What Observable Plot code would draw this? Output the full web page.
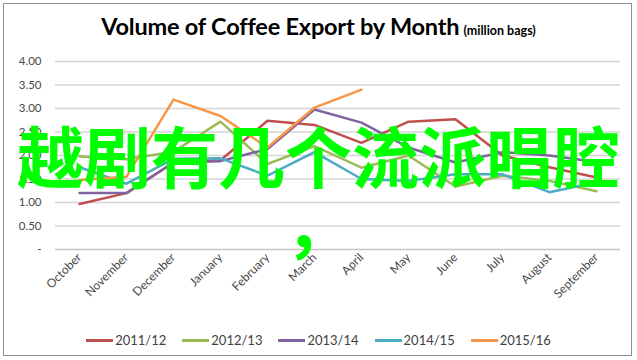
<!DOCTYPE html>
<html>
<head>
<meta charset="utf-8">
<script src="https://cdn.jsdelivr.net/npm/d3@7"></script>
<script src="https://cdn.jsdelivr.net/npm/@observablehq/plot@0.6"></script>
<style>
  html, body { margin: 0; padding: 0; background: #fff; }
  #wrap { position: relative; width: 637px; height: 360px; overflow: hidden; font-family: Lato, "Open Sans", sans-serif; }
  #frame { position: absolute; left: 3px; top: 3px; width: 629px; height: 353px; border: 1px solid #8f8f8f; box-sizing: border-box; pointer-events: none; }
  #title { position: absolute; left: 0; top: 12px; width: 637px; text-align: center; white-space: nowrap; color: #000; }
  #title .main { font-size: 23.5px; font-weight: 700; letter-spacing: -0.2px; }
  #title .unit { font-size: 12.5px; font-weight: 700; }
  #chart { position: absolute; left: 0; top: 50px; }
  #legend { position: absolute; left: 0; top: 332px; width: 637px; text-align: center; font-size: 13px; color: #404040; white-space: nowrap; }
  #legend .item { display: inline-block; margin: 0 8px; }
  #legend .sw { display: inline-block; width: 27px; height: 3px; vertical-align: middle; margin-right: 2px; position: relative; top: -1px; }
  #overlay { position: absolute; left: 0; top: 120px; width: 637px; text-align: center; font-family: "Noto Sans CJK SC", sans-serif; font-weight: 700; font-size: 67px; line-height: 68px; color: #00ff00; white-space: nowrap; }
</style>
</head>
<body>
<div id="wrap">
  <div id="title"></div>
  <div id="chart"></div>
  <div id="legend"></div>
  <div id="overlay"></div>
  <div id="frame"></div>
</div>
<script>
const titleText = "Volume of Coffee Export by Month";
const unitText = "(million bags)";
const overlayLine1 = "越剧有几个流派唱腔";
const overlayLine2 = "，";

const months = ["October", "November", "December", "January", "February", "March", "April", "May", "June", "July", "August", "September"];
const seriesNames = ["2011/12", "2012/13", "2013/14", "2014/15", "2015/16"];
const seriesColors = ["#C0504D", "#9BBB59", "#8064A2", "#4BACC6", "#F79646"];
const yTicks = [0, 0.5, 1, 1.5, 2, 2.5, 3, 3.5, 4];

const v2011 = [0.97, 1.20, 1.85, 1.90, 2.74, 2.65, 2.27, 2.72, 2.77, 2.00, 1.75, 1.53];
const v2012 = [1.98, 1.92, 2.08, 2.72, 1.82, 2.20, 1.74, 2.00, 1.34, 1.57, 1.46, 1.24];
const v2013 = [1.20, 1.20, 1.85, 1.88, 2.14, 2.98, 2.70, 2.17, 1.85, 2.07, 2.00, 1.86];
const v2014 = [1.75, 1.40, 1.93, 1.94, 1.57, 2.07, 1.50, 1.46, 1.60, 1.60, 1.22, 1.43];
const v2015 = [1.48, 1.55, 3.19, 2.84, 2.17, 3.02, 3.40];

const allValues = [v2011, v2012, v2013, v2014, v2015];
const data = [];
allValues.forEach((vals, si) => {
  vals.forEach((v, i) => data.push({series: seriesNames[si], month: months[i], value: v}));
});

document.getElementById("title").innerHTML =
  `<span class="main">${titleText}</span> <span class="unit">${unitText}</span>`;
document.getElementById("overlay").innerHTML = `${overlayLine1}<br>${overlayLine2}`;

const chart = Plot.plot({
  width: 637,
  height: 270,
  marginTop: 11,
  marginBottom: 71,
  marginLeft: 55,
  marginRight: 17,
  style: {fontFamily: "Lato, 'Open Sans', sans-serif", fontSize: "11.5px", color: "#4a4a4a", background: "transparent"},
  x: {type: "point", domain: months, padding: 0.5, label: null},
  y: {domain: [0, 4], label: null},
  color: {domain: seriesNames, range: seriesColors},
  marks: [
    Plot.ruleY(yTicks.filter(d => d > 0), {stroke: "#d4d4d4", strokeWidth: 1.5}),
    Plot.ruleY([0], {stroke: "#c4c4c4", strokeWidth: 1.5}),
    Plot.axisY({ticks: yTicks, tickSize: 0, tickPadding: 14, tickFormat: d => d === 0 ? "-" : d.toFixed(2), fontSize: 11.5}),
    Plot.axisX({tickSize: 0, tickRotate: -45, tickPadding: 6, fontSize: 12}),
    Plot.line(data, {x: "month", y: "value", z: "series", stroke: "series", strokeWidth: 2.5, strokeLinejoin: "round"})
  ]
});
document.getElementById("chart").appendChild(chart);

const legend = document.getElementById("legend");
seriesNames.forEach((name, i) => {
  const item = document.createElement("span");
  item.className = "item";
  item.innerHTML = `<span class="sw" style="background:${seriesColors[i]}"></span>${name}`;
  legend.appendChild(item);
});
</script>
</body>
</html>
